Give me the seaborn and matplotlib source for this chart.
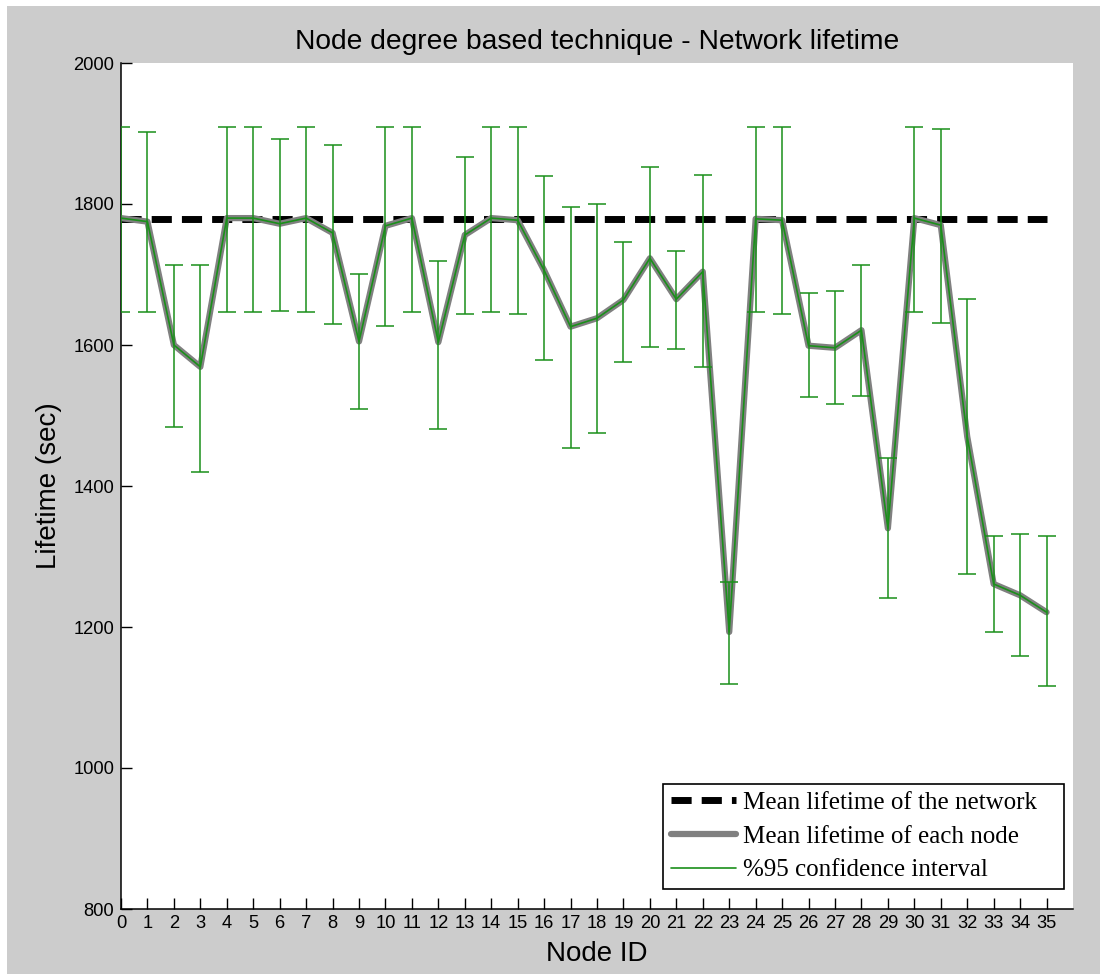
import matplotlib
matplotlib.use("Agg")
import matplotlib.pyplot as plt
from matplotlib.lines import Line2D
from matplotlib.patches import Rectangle
import seaborn as sns

# Values
node_id = list(range(36))
mean_life = [1780, 1775, 1600, 1569, 1780, 1780, 1772, 1780, 1759, 1605,
             1769, 1780, 1604, 1756, 1780, 1777, 1706, 1626, 1638, 1664,
             1723, 1665, 1704, 1193, 1779, 1777, 1599, 1596, 1621, 1340,
             1780, 1770, 1470, 1261, 1245, 1221]
ci_upper = [1909, 1902, 1713, 1713, 1909, 1909, 1892, 1909, 1884, 1701,
            1909, 1909, 1719, 1867, 1909, 1909, 1840, 1796, 1800, 1746,
            1852, 1733, 1841, 1264, 1909, 1909, 1674, 1677, 1713, 1440,
            1909, 1906, 1665, 1329, 1332, 1329]
ci_lower = [1647, 1647, 1484, 1420, 1647, 1647, 1648, 1647, 1630, 1509,
            1627, 1647, 1481, 1644, 1647, 1644, 1579, 1454, 1475, 1576,
            1597, 1594, 1569, 1119, 1647, 1644, 1526, 1516, 1528, 1241,
            1647, 1631, 1275, 1193, 1159, 1116]
network_mean = 1779
y_ticks = [800, 1000, 1200, 1400, 1600, 1800, 2000]
legend_labels = ['Mean lifetime of the network', 'Mean lifetime of each node',
                 '%95 confidence interval']

sns.set_style('ticks')
plt.rcParams['font.family'] = ['Liberation Sans', 'DejaVu Sans']
plt.rcParams['text.color'] = 'black'
plt.rcParams['axes.labelcolor'] = 'black'

fig = plt.figure(figsize=(11, 9.74), dpi=100, facecolor='white')
# matlab-like gray window background
fig.patches.append(Rectangle((7 / 1100, 0), 1, 1 - 6 / 974, transform=fig.transFigure,
                             facecolor='#cccccc', edgecolor='none', zorder=-10))
ax = fig.add_axes([121 / 1100, 1 - 909 / 974, 952 / 1100, 846 / 974])
ax.set_facecolor('white')

green = '#1a8f1a'

# network mean (dashed)
sns.lineplot(x=node_id, y=[network_mean] * len(node_id), color='black', lw=5,
             linestyle=(0, (2.9, 1.45)), errorbar=None, ax=ax, zorder=2)
# mean of each node (gray thick)
sns.lineplot(x=node_id, y=mean_life, color='#808080', lw=4.5, errorbar=None,
             ax=ax, zorder=3)
# confidence intervals
yerr = [[m - lo for m, lo in zip(mean_life, ci_lower)],
        [hi - m for m, hi in zip(mean_life, ci_upper)]]
ax.errorbar(node_id, mean_life, yerr=yerr, color=green, lw=1.2, elinewidth=1.1,
            capsize=6.5, capthick=1.1, zorder=4)

ax.set_xlim(0, 36)
ax.set_ylim(800, 2000)
ax.set_xticks(node_id)
ax.set_yticks(y_ticks)
ax.tick_params(direction='in', length=8, width=1, labelsize=13.2, colors='black')
ax.tick_params(axis='x', pad=4)
ax.tick_params(axis='y', pad=5)
sns.despine(ax=ax)
for s in ['left', 'bottom']:
    ax.spines[s].set_linewidth(1.1)
    ax.spines[s].set_color('black')

ax.set_title('Node degree based technique - Network lifetime', fontsize=20.3,
             pad=10, color='black')
ax.set_xlabel('Node ID', fontsize=20, labelpad=7, color='black')
ax.set_ylabel('Lifetime (sec)', fontsize=20, labelpad=8, color='black')

handles = [Line2D([], [], color='black', lw=5, linestyle=(0, (2.9, 1.45))),
           Line2D([], [], color='#808080', lw=4.5),
           Line2D([], [], color=green, lw=1.2)]
leg = ax.legend(handles, legend_labels, loc='lower left', mode='expand',
                bbox_to_anchor=(542 / 952, 20 / 846, 401 / 952, 0.1),
                borderaxespad=0,
                prop={'family': 'Liberation Serif', 'size': 18},
                handlelength=2.6, handletextpad=0.3, labelspacing=0.45,
                borderpad=0.3, fancybox=False, framealpha=1)
leg.get_frame().set_edgecolor('black')
leg.get_frame().set_linewidth(1.2)
for t in leg.get_texts():
    t.set_color('black')

fig.savefig('out.png', dpi=100, facecolor=fig.get_facecolor())
